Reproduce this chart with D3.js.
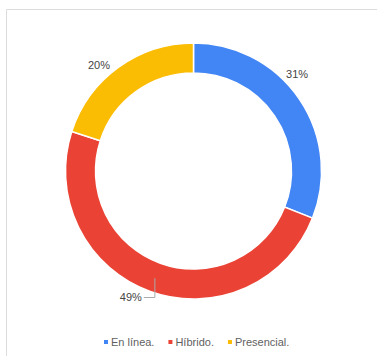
<!DOCTYPE html>
<html>
<head>
<meta charset="utf-8">
<script src="https://cdn.jsdelivr.net/npm/d3@7/dist/d3.min.js"></script>
<style>
  html, body { margin: 0; padding: 0; background: #fff; }
  svg { display: block; font-family: "Liberation Sans", Arial, sans-serif; }
</style>
</head>
<body>
<svg id="chart" width="377" height="356"></svg>
<script>
// Modalidad preferida
const categories = ["En línea.", "Híbrido.", "Presencial."];
const values = [31, 49, 20];
const colors = ["#4285F4", "#EA4335", "#FBBC04"];

const svg = d3.select("#chart");
const W = 377, H = 356;

// panel frame
svg.append("path")
  .attr("d", `M6.5,${H} V9.5 H${W}`)
  .attr("fill", "none")
  .attr("stroke", "#dcdcdc")
  .attr("stroke-width", 1);

const cx = 193.5, cy = 171, outerR = 128, innerR = 98;
const g = svg.append("g").attr("transform", `translate(${cx},${cy})`);

const pie = d3.pie().sort(null).value(d => d)(values);
const arc = d3.arc().innerRadius(innerR).outerRadius(outerR);

g.selectAll("path.slice")
  .data(pie)
  .join("path")
  .attr("class", "slice")
  .attr("d", arc)
  .attr("fill", (d, i) => colors[i])
  .attr("stroke", "#fff")
  .attr("stroke-width", 1.5);

const total = d3.sum(values);
const pct = v => Math.round(v / total * 100) + "%";

// outside labels for slices in the upper half
const labelR = 142;
pie.forEach((d, i) => {
  if (i === 1) return;
  const a = d.startAngle + 0.42 * (d.endAngle - d.startAngle);
  g.append("text")
    .attr("x", Math.sin(a) * labelR)
    .attr("y", -Math.cos(a) * labelR)
    .attr("dy", "0.35em")
    .attr("text-anchor", "middle")
    .attr("font-size", 11)
    .attr("fill", "#444")
    .text(pct(d.value));
});

// leader-line label for the large slice
{
  const d = pie[1];
  const a = (d.startAngle + d.endAngle) / 2;
  const px = Math.sin(a) * 114, py = -Math.cos(a) * 114;
  const ly = 297.5 - cy;
  g.append("path")
    .attr("d", `M${px},${py} V${ly} H${px - 11}`)
    .attr("fill", "none")
    .attr("stroke", "#aaa")
    .attr("stroke-width", 1);
  g.append("text")
    .attr("x", px - 13)
    .attr("y", ly)
    .attr("dy", "0.35em")
    .attr("text-anchor", "end")
    .attr("font-size", 11)
    .attr("fill", "#444")
    .text(pct(d.value));
}

// legend
const legendY = 342;
const legend = svg.append("g");
let x = 104;
categories.forEach((c, i) => {
  legend.append("rect")
    .attr("x", x)
    .attr("y", legendY - 2)
    .attr("width", 4)
    .attr("height", 4)
    .attr("fill", colors[i]);
  const t = legend.append("text")
    .attr("x", x + 7)
    .attr("y", legendY)
    .attr("dy", "0.35em")
    .attr("font-size", 11)
    .attr("fill", "#5f5f5f")
    .text(c);
  const w = t.node().getComputedTextLength();
  x += 7 + w + 14;
});
</script>
</body>
</html>
